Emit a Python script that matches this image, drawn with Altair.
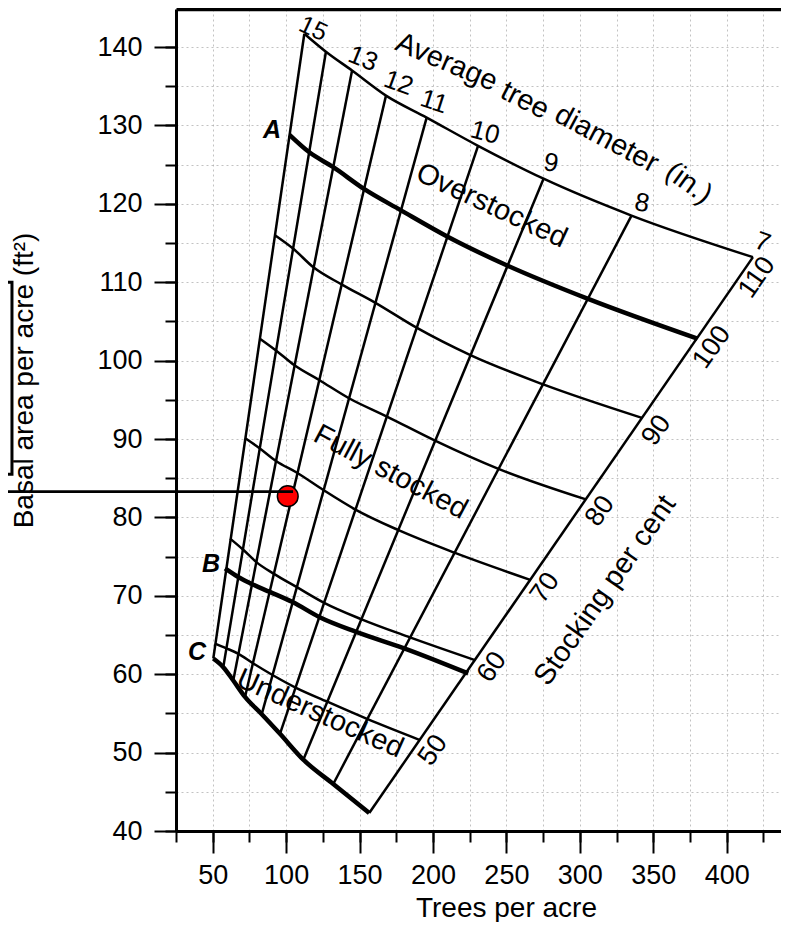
import altair as alt
import pandas as pd

FONT = "Liberation Sans"

# ---------------- data ----------------
diameters = [15, 14, 13, 12, 11, 10, 9, 8, 7]

# stocking curves: (trees per acre, basal area) where each curve meets the
# diameter lines 15" ... 7"
s110_trees = [112.4, 127.1, 144.9, 168.0, 195.7, 230.7, 275.3, 335.2, 417.9]
s110_ba = [141.7, 139.4, 137.0, 133.8, 131.0, 127.4, 123.2, 118.5, 113.2]
a_trees = [102.3, 115.6, 131.9, 153.0, 177.9, 210.0, 250.9, 305.2, 380.1]
a_ba = [128.8, 126.6, 124.7, 121.9, 119.2, 115.8, 112.1, 107.9, 102.8]
s90_trees = [92.4, 104.7, 118.6, 138.0, 160.5, 188.8, 225.5, 274.6, 342.3]
s90_ba = [116.0, 114.3, 111.9, 109.7, 107.4, 104.2, 100.7, 97.0, 92.7]
s80_trees = [82.1, 93.1, 105.7, 122.7, 142.8, 168.3, 201.4, 244.6, 304.2]
s80_ba = [102.8, 101.3, 99.4, 97.5, 95.2, 92.9, 89.8, 86.2, 82.3]
s70_trees = [72.2, 82.1, 93.1, 107.4, 125.3, 147.2, 176.2, 214.6, 266.7]
s70_ba = [90.1, 88.8, 87.2, 85.7, 83.5, 81.0, 78.4, 75.5, 72.0]
s60_trees = [61.8, 70.6, 79.7, 91.7, 107.3, 125.9, 151.4, 184.3, 228.6]
s60_ba = [77.3, 75.9, 74.3, 72.8, 71.1, 69.1, 67.0, 64.7, 61.8]
b_trees = [58.4, 67.4, 76.6, 88.9, 104.4, 122.5, 147.7, 180.4, 224.0]
b_ba = [73.5, 72.4, 71.5, 70.5, 69.2, 67.3, 65.4, 63.3, 60.1]
s50_trees = [51.6, 59.3, 67.5, 77.4, 90.7, 106.4, 128.0, 155.1, 191.2]
s50_ba = [63.9, 63.3, 62.6, 61.4, 59.9, 58.3, 56.5, 54.3, 51.6]
c_trees = [50.4, 57.2, 64.0, 72.0, 83.4, 95.8, 111.7, 132.1, 156.6]
c_ba = [62.0, 60.9, 59.2, 57.1, 54.9, 52.4, 49.1, 46.0, 42.3]

thin_curves = ["110", "90", "80", "70", "60", "50"]
thick_curves = ["A", "B", "C"]

diam_label_text = ["15", "13", "12", "11", "10", "9", "8", "7"]
diam_label_trees = [118.5, 152.3, 176.5, 200.7, 235.4, 280.4, 342.3, 424.4]
diam_label_ba = [142.35, 138.5, 135.4, 133.0, 129.05, 125.2, 120.1, 115.1]

stock_label_text = ["110", "100", "90", "80", "70", "60", "50"]
stock_label_trees = [420.6, 390.0, 352.2, 313.7, 276.3, 240.2, 200.0]
stock_label_ba = [110.6, 101.7, 91.1, 80.8, 71.0, 60.9, 50.3]

line_letters = ["A", "B", "C"]
letter_trees = [90.4, 48.8, 39.3]
letter_ba = [129.4, 74.0, 62.8]

title_words = ["Average", "tree", "diameter", "(in.)"]
title_trees = [209.3, 262.7, 318.3, 374.3]
title_ba = [138.1, 133.2, 128.3, 122.65]

stand_trees = [101.1]
stand_ba = [82.7]
guide_trees = [-94.8, 104.7]
guide_ba = [83.3, 83.3]
bracket_trees = [-94.8, -86.7, -86.7, -94.8]
bracket_ba = [110.0, 110.0, 85.5, 85.5]

x_major = list(range(50, 401, 50))
x_minor = list(range(25, 426, 25))
y_major = list(range(40, 141, 10))
y_minor = list(range(40, 146, 5))

# ---------------- tables ----------------
curve_lists = {
    "110": (s110_trees, s110_ba), "A": (a_trees, a_ba), "90": (s90_trees, s90_ba),
    "80": (s80_trees, s80_ba), "70": (s70_trees, s70_ba), "60": (s60_trees, s60_ba),
    "B": (b_trees, b_ba), "50": (s50_trees, s50_ba), "C": (c_trees, c_ba),
}
rows = []
for name, (tr, ba) in curve_lists.items():
    for i, (t, b) in enumerate(zip(tr, ba)):
        rows.append({"curve": name, "i": i, "trees": t, "ba": b})
curves = pd.DataFrame(rows)

drows = []
for k, d in enumerate(diameters):
    drows.append({"d": d, "i": 0, "trees": s110_trees[k], "ba": s110_ba[k]})
    drows.append({"d": d, "i": 1, "trees": c_trees[k], "ba": c_ba[k]})
dlines = pd.DataFrame(drows)

xs = alt.Scale(domain=[25, 437.0], nice=False, zero=False)
ys = alt.Scale(domain=[40, 144.85], nice=False, zero=False)


def X(axis=None):
    return alt.X("trees:Q", scale=xs, axis=axis)


def Y(axis=None):
    return alt.Y("ba:Q", scale=ys, axis=axis)


ax_x_major = alt.Axis(orient="bottom", values=x_major, tickSize=22, tickWidth=2,
                      tickColor="black", domainColor="black", domainWidth=3,
                      labelFont=FONT, labelFontSize=27, labelColor="black",
                      labelPadding=9, labelOverlap=False, grid=False,
                      title="Trees per acre", titleFont=FONT, titleFontSize=28,
                      titleFontWeight="normal", titleColor="black",
                      titleX=330, titleY=85, titleBaseline="alphabetic")
ax_y_major = alt.Axis(orient="left", values=y_major, tickSize=22, tickWidth=2,
                      tickColor="black", domainColor="black", domainWidth=3,
                      labelFont=FONT, labelFontSize=27, labelColor="black",
                      labelPadding=12, labelOverlap=False, grid=False,
                      title="Basal area per acre (ft²)", titleFont=FONT,
                      titleFontSize=28, titleFontWeight="normal", titleColor="black",
                      titleX=-144, titleY=371, titleBaseline="alphabetic")
ax_x_minor = alt.Axis(orient="bottom", values=x_minor, tickSize=11, tickWidth=2,
                      tickColor="black", domain=False, labels=False, title="",
                      grid=True, gridColor="#999999", gridDash=[2, 3],
                      gridWidth=1, gridOpacity=0.6)
ax_y_minor = alt.Axis(orient="left", values=y_minor, tickSize=11, tickWidth=2,
                      tickColor="black", domain=False, labels=False, title="",
                      grid=True, gridColor="#999999", gridDash=[2, 3],
                      gridWidth=1, gridOpacity=0.6)
ax_x_top = alt.Axis(orient="top", ticks=False, labels=False, domainColor="black",
                    domainWidth=3.5, grid=False, title="")

diam_layer = alt.Chart(dlines).mark_line(color="black", strokeWidth=2.5).encode(
    x=X(ax_x_minor), y=Y(ax_y_minor), detail="d:N", order="i:Q")

thin_layer = alt.Chart(curves).transform_filter(
    alt.FieldOneOfPredicate(field="curve", oneOf=thin_curves)
).mark_line(color="black", strokeWidth=2.5, interpolate="monotone").encode(
    x=X(ax_x_major), y=Y(ax_y_major), detail="curve:N", order="i:Q")

thick_layer = alt.Chart(curves).transform_filter(
    alt.FieldOneOfPredicate(field="curve", oneOf=thick_curves)
).mark_line(color="black", strokeWidth=4.5, interpolate="monotone").encode(
    x=X(ax_x_top), y=Y(), detail="curve:N", order="i:Q")


def text_layer(texts, trees, bas, angle=0, size=26, **kw):
    df = pd.DataFrame({"t": texts, "trees": trees, "ba": bas})
    return alt.Chart(df).mark_text(angle=angle, fontSize=size, font=FONT,
                                   color="black", align="center",
                                   baseline="middle", **kw).encode(
        x=X(), y=Y(), text="t:N")


diam_angles = [25, 22, 20, 18, 15, 10, 10, 20]
diam_sizes = [25, 26, 26, 26, 26, 26, 26, 26]
labels = []
for k in range(len(diam_label_text)):
    labels.append(text_layer([diam_label_text[k]], [diam_label_trees[k]],
                             [diam_label_ba[k]], angle=diam_angles[k],
                             size=diam_sizes[k]))
labels.append(text_layer(stock_label_text, stock_label_trees, stock_label_ba,
                         angle=305, size=27))
labels.append(text_layer(line_letters, letter_trees, letter_ba, size=25,
                         fontWeight="bold", fontStyle="italic"))

title_angles = [23, 27, 28, 36]
for k in range(len(title_words)):
    labels.append(text_layer([title_words[k]], [title_trees[k]], [title_ba[k]],
                             angle=title_angles[k], size=29))
labels.append(text_layer(["Overstocked"], [240.0], [119.8], angle=25, size=29))
labels.append(text_layer(["Fully stocked"], [171.2], [85.8], angle=28, size=29))
labels.append(text_layer(["Understocked"], [123.1], [55.0], angle=24, size=29))
labels.append(text_layer(["Stocking per cent"], [317.1], [70.7], angle=305, size=29))

stand = alt.Chart(pd.DataFrame({"trees": stand_trees, "ba": stand_ba})).mark_point(
    filled=True, fill="#ff0000", stroke="black", strokeWidth=1.5, size=430,
    opacity=1).encode(x=X(), y=Y())

guide = alt.Chart(pd.DataFrame({"trees": guide_trees, "ba": guide_ba})).mark_line(
    color="black", strokeWidth=2.8).encode(x=X(), y=Y())

bracket = alt.Chart(pd.DataFrame({"i": [0, 1, 2, 3], "trees": bracket_trees,
                                  "ba": bracket_ba})).mark_line(
    color="black", strokeWidth=3).encode(x=X(), y=Y(), order="i:Q")

chart = alt.layer(diam_layer, thin_layer, thick_layer, *labels, stand, guide,
                  bracket).resolve_axis(x="independent", y="independent").properties(
    width=605, height=822,
    autosize=alt.AutoSizeParams(type="none"),
    padding={"left": 168, "top": 1, "right": 0, "bottom": 91},
    background="white",
).configure_view(stroke="transparent")

chart.save("out.html", embed_options={"renderer": "svg", "actions": False})
